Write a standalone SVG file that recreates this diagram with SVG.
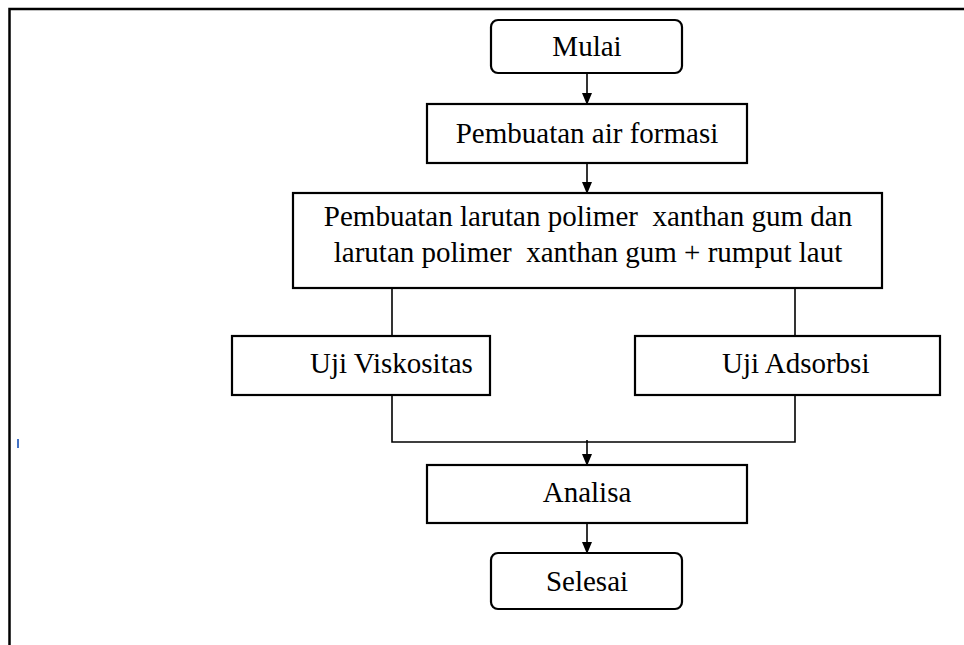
<svg xmlns="http://www.w3.org/2000/svg" width="964" height="645" viewBox="0 0 964 645">
<style>
.box{fill:#fff;stroke:#000;stroke-width:2.2}
.ln{fill:none;stroke:#000;stroke-width:1.6}
.t{font-family:'Times New Roman','Liberation Serif',serif;font-size:29px;fill:#000;white-space:pre}
.c{text-anchor:middle}
</style>
<defs>
<marker id="ah" markerWidth="12" markerHeight="14" refX="11" refY="5" orient="auto" markerUnits="userSpaceOnUse">
<path d="M0,0 L12,5 L0,10 Z" fill="#000"/>
</marker>
</defs>
<rect width="964" height="645" fill="#fff"/>
<path d="M9.5,650 V9 H970" fill="none" stroke="#000" stroke-width="2.5"/>
<rect x="17" y="439" width="2" height="9" fill="#4472C4"/>
<g id="connectors">
<path class="ln" d="M587,74 V104" marker-end="url(#ah)"/>
<path class="ln" d="M587,164 V193" marker-end="url(#ah)"/>
<path class="ln" d="M392,289 V336"/>
<path class="ln" d="M795,289 V336"/>
<path class="ln" d="M392,395 V442 H795 V395"/>
<path class="ln" d="M587,440 V465" marker-end="url(#ah)"/>
<path class="ln" d="M587,524 V553" marker-end="url(#ah)"/>
</g>
<g id="mulai">
<rect class="box" x="491" y="20" width="191" height="53" rx="7"/>
<text class="t c" x="587" y="56">Mulai</text>
</g>
<g id="air-formasi">
<rect class="box" x="427" y="104" width="320" height="59"/>
<text class="t c" x="587" y="143">Pembuatan air formasi</text>
</g>
<g id="larutan">
<rect class="box" x="293" y="193" width="589" height="95"/>
<text class="t c" x="588" y="226">Pembuatan larutan polimer  xanthan gum dan</text>
<text class="t c" x="588" y="262">larutan polimer  xanthan gum + rumput laut</text>
</g>
<g id="viskositas">
<rect class="box" x="232" y="336" width="258" height="59"/>
<text class="t" x="310" y="373">Uji Viskositas</text>
</g>
<g id="adsorbsi">
<rect class="box" x="635" y="336" width="305" height="59"/>
<text class="t" x="722" y="373">Uji Adsorbsi</text>
</g>
<g id="analisa">
<rect class="box" x="427" y="465" width="320" height="58"/>
<text class="t c" x="587" y="502">Analisa</text>
</g>
<g id="selesai">
<rect class="box" x="491" y="553" width="191" height="56" rx="7"/>
<text class="t c" x="587" y="591">Selesai</text>
</g>
</svg>
